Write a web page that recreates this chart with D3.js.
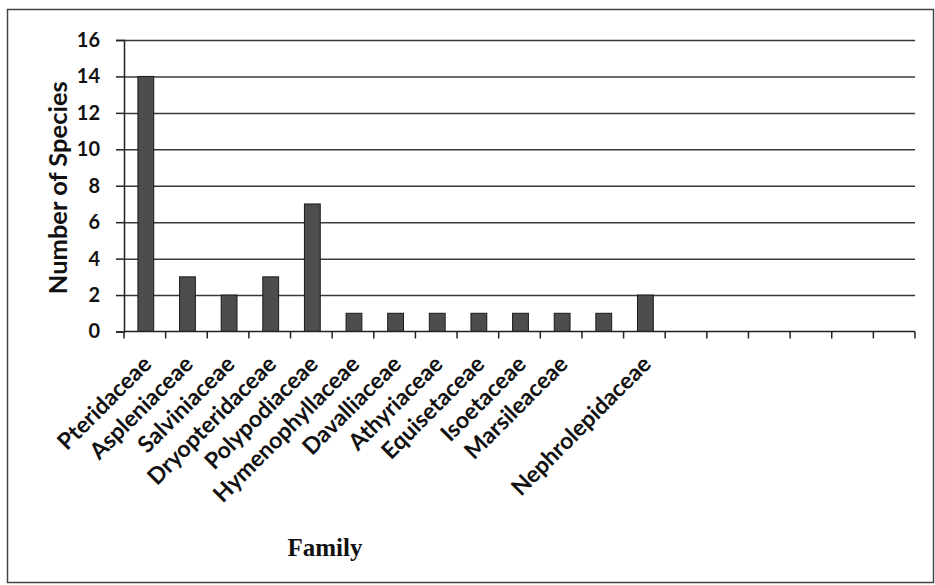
<!DOCTYPE html>
<html>
<head>
<meta charset="utf-8">
<script src="https://cdn.jsdelivr.net/npm/d3@7/dist/d3.min.js"></script>
<style>
  html, body { margin: 0; padding: 0; background: #fff; }
  svg { display: block; }
</style>
</head>
<body>
<div id="chart"></div>
<script>
// fern families (19 slots on the axis, slot 12 and the tail are unlabelled)
const families = ["Pteridaceae", "Aspleniaceae", "Salviniaceae", "Dryopteridaceae", "Polypodiaceae",
  "Hymenophyllaceae", "Davalliaceae", "Athyriaceae", "Equisetaceae", "Isoetaceae", "Marsileaceae",
  "", "Nephrolepidaceae", "", "", "", "", "", ""];
const species = [14, 3, 2, 3, 7, 1, 1, 1, 1, 1, 1, 1, 2, null, null, null, null, null, null];
const yTicks = [0, 2, 4, 6, 8, 10, 12, 14, 16];

const W = 935, H = 585;
const margin = {top: 40, right: 20, bottom: 253.5, left: 124};

const svg = d3.select("#chart").append("svg")
  .attr("width", W).attr("height", H)
  .attr("viewBox", `0 0 ${W} ${H}`);

// outer frame
svg.append("rect")
  .attr("x", 7.5).attr("y", 9.5)
  .attr("width", W - 9).attr("height", H - 12)
  .attr("fill", "none").attr("stroke", "#444").attr("stroke-width", 1.5);

const x = d3.scaleBand()
  .domain(d3.range(families.length))
  .range([margin.left, W - margin.right])
  .padding(0);

const y = d3.scaleLinear()
  .domain([0, 16])
  .range([H - margin.bottom, margin.top]);

// gridlines
svg.append("g")
  .attr("transform", `translate(${margin.left},0)`)
  .call(d3.axisLeft(y).tickValues(yTicks.slice(1)).tickSize(-(W - margin.right - margin.left)).tickFormat(""))
  .call(g => g.select(".domain").remove())
  .call(g => g.selectAll("line").attr("stroke", "#3a3a3a").attr("stroke-width", 1.5));

// bars
const barW = x.bandwidth() * 0.38;
svg.append("g")
  .selectAll("rect")
  .data(species.map((v, i) => ({i, v})).filter(d => d.v != null))
  .join("rect")
  .attr("x", d => x(d.i) + (x.bandwidth() - barW) / 2 + 1)
  .attr("y", d => y(d.v))
  .attr("width", barW)
  .attr("height", d => y(0) - y(d.v))
  .attr("fill", "#4d4d4d")
  .attr("stroke", "#1a1a1a")
  .attr("stroke-width", 1);

// y axis
svg.append("g")
  .attr("transform", `translate(${margin.left},0)`)
  .call(d3.axisLeft(y).tickValues(yTicks).tickSize(8).tickPadding(16))
  .call(g => g.select(".domain").attr("stroke", "#222").attr("stroke-width", 1.5))
  .call(g => g.selectAll(".tick line").attr("stroke", "#222").attr("stroke-width", 1.5))
  .call(g => g.selectAll("text")
    .attr("font-family", "Lato, sans-serif")
    .attr("font-weight", "bold")
    .attr("font-size", 20)
    .attr("fill", "#111"));

// x axis line and boundary ticks
const xAxis = svg.append("g");
xAxis.append("line")
  .attr("x1", x.range()[0]).attr("x2", x.range()[1])
  .attr("y1", y(0)).attr("y2", y(0))
  .attr("stroke", "#222").attr("stroke-width", 1.5);
xAxis.selectAll("line.tick")
  .data(d3.range(families.length + 1))
  .join("line")
  .attr("class", "tick")
  .attr("x1", d => d < families.length ? x(d) : x.range()[1])
  .attr("x2", d => d < families.length ? x(d) : x.range()[1])
  .attr("y1", y(0)).attr("y2", y(0) + 7)
  .attr("stroke", "#222").attr("stroke-width", 1.5);

// rotated category labels
xAxis.selectAll("text")
  .data(families.map((name, i) => ({name, i})).filter(d => d.name))
  .join("text")
  .attr("transform", d => `translate(${x(d.i) + x.bandwidth() / 2 + 8},${y(0) + 34}) rotate(-45)`)
  .attr("text-anchor", "end")
  .attr("font-family", "Lato, sans-serif")
  .attr("font-weight", "bold")
  .attr("font-size", 23)
  .attr("fill", "#111")
  .text(d => d.name);

// axis titles
svg.append("text")
  .attr("transform", `translate(67,${(y(0) + y(16)) / 2 + 2}) rotate(-90)`)
  .attr("text-anchor", "middle")
  .attr("font-family", "Lato, sans-serif")
  .attr("font-weight", "bold")
  .attr("font-size", 25.5)
  .attr("fill", "#111")
  .text("Number of Species");

svg.append("text")
  .attr("x", 325).attr("y", 556)
  .attr("text-anchor", "middle")
  .attr("font-family", "'Liberation Serif', 'Times New Roman', serif")
  .attr("font-weight", "bold")
  .attr("font-size", 25)
  .attr("fill", "#111")
  .text("Family");
</script>
</body>
</html>
